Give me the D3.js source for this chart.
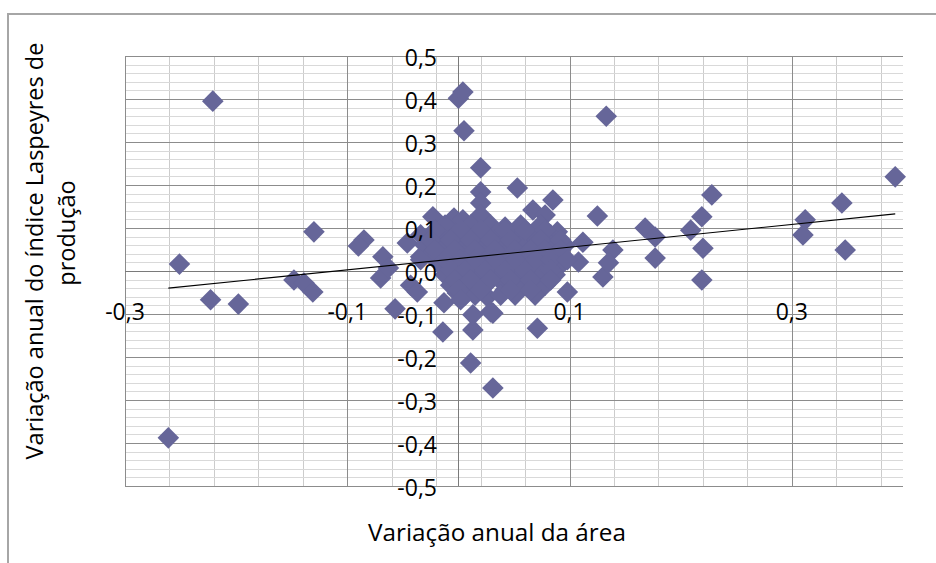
<!DOCTYPE html>
<html><head><meta charset="utf-8">
<script src="https://cdn.jsdelivr.net/npm/d3@7"></script>
<style>html,body{margin:0;padding:0;background:#fff;overflow:hidden}</style>
</head><body>
<svg id="c" width="936" height="563"></svg>
<script>
// ---- data ----
const xTickValues = [-0.3, -0.1, 0.1, 0.3];
const yTickValues = [0.5, 0.4, 0.3, 0.2, 0.1, 0.0, -0.1, -0.2, -0.3, -0.4, -0.5];
const xTitle = "Variação anual da área";
const yTitleLines = ["Variação anual do índice Laspeyres de", "produção"];
const areaVar = [
 -0.261,-0.251,-0.221,-0.223,-0.198,-0.148,-0.139,-0.131,-0.130,-0.085,-0.090,-0.068,-0.070,-0.057,-0.063,
 -0.046,-0.043,-0.037,-0.034,-0.014,0.011,0.031,0.013,0.013,0.031,0.026,0.071,0.098,-0.013,-0.001,
 0.000,0.004,0.005,0.133,0.020,0.020,0.053,0.020,0.020,0.085,-0.023,-0.004,0.042,0.067,0.078,
 0.089,0.004,0.125,0.112,0.108,0.130,0.139,0.135,0.168,0.177,0.177,0.209,0.219,0.228,0.220,
 0.219,0.312,0.310,0.345,0.348,0.393,0.080,0.062,0.042,0.029,
 -0.012,0.011,0.029,0.056,0.074,
 -0.034,-0.016,-0.003,0.015,0.033,0.051,0.065,0.083,
 -0.030,-0.012,0.002,0.020,0.038,0.056,0.069,0.083,0.096,
 -0.025,-0.007,0.006,0.024,0.042,0.060,0.074,0.087,
 -0.016,-0.003,0.011,0.029,0.047,0.065,0.078,0.092,
 -0.012,0.002,0.020,0.038,0.056,0.074,0.087,
 -0.007,0.006,0.024,0.042,0.060,0.078,
 0.006,0.015,0.038,0.051,0.069,
 -0.021,0.002,0.020,0.042,0.060,0.078,
 -0.025,-0.007,0.011,0.029,0.047,0.074,0.092,
 -0.021,-0.003,0.015,0.033,0.051,0.065,0.078,0.092,
 -0.034,-0.012,0.002,0.015,0.033,0.051,0.069,0.083,0.098,
 -0.007,0.006,0.024,0.042,0.060,0.083,
 -0.003,0.011,0.029,0.047,0.065,0.083,
 0.000,0.020,0.047,0.065,
 0.002
];
const prodVar = [
 -0.388,0.016,0.395,-0.067,-0.077,-0.021,-0.028,-0.049,0.091,0.072,0.058,0.033,-0.016,-0.088,0.007,
 0.065,-0.033,-0.049,0.033,-0.142,-0.214,-0.272,-0.137,-0.102,-0.098,-0.060,-0.133,-0.049,-0.074,-0.051,
 0.402,0.416,0.326,0.360,0.240,0.184,0.193,0.158,0.130,0.165,0.126,0.123,0.102,0.142,0.130,
 0.091,0.119,0.128,0.067,0.021,-0.014,0.049,0.019,0.100,0.079,0.030,0.095,0.126,0.177,0.053,
 -0.021,0.119,0.084,0.158,0.049,0.219,-0.016,-0.028,-0.044,-0.095,
 0.107,0.107,0.107,0.107,0.107,
 0.084,0.084,0.084,0.084,0.084,0.084,0.084,0.084,
 0.060,0.060,0.060,0.060,0.060,0.060,0.060,0.060,0.060,
 0.037,0.037,0.037,0.037,0.037,0.037,0.037,0.037,
 0.014,0.014,0.014,0.014,0.014,0.014,0.014,0.014,
 -0.009,-0.009,-0.009,-0.009,-0.009,-0.009,-0.009,
 -0.033,-0.033,-0.033,-0.033,-0.033,-0.033,
 -0.056,-0.056,-0.056,-0.056,-0.056,
 0.095,0.095,0.095,0.095,0.095,0.095,
 0.072,0.072,0.072,0.072,0.072,0.072,0.072,
 0.049,0.049,0.049,0.049,0.049,0.049,0.049,0.049,
 0.026,0.026,0.026,0.026,0.026,0.026,0.026,0.026,0.026,
 0.002,0.002,0.002,0.002,0.002,0.002,
 -0.021,-0.021,-0.021,-0.021,-0.021,-0.021,
 -0.044,-0.044,-0.044,-0.044,
 -0.067
];
const trendSlope = 0.264;
const trendIntercept = 0.029;

// ---- layout ----
const svg = d3.select("#c");
const FONT = "'Open Sans', 'DejaVu Sans', sans-serif";
const plot = {left:125, right:903, top:56, bottom:486};
const x = d3.scaleLinear().domain([-0.3, 0.4]).range([plot.left, plot.right]);
const y = d3.scaleLinear().domain([-0.5, 0.5]).range([plot.bottom, plot.top]);
const fmt = v => d3.format(".1f")(Math.abs(v) < 1e-9 ? 0 : v).replace(".", ",").replace("−", "-");

// outer chart border
svg.append("rect").attr("x",8).attr("y",14).attr("width",960).attr("height",600)
  .attr("fill","#fff").attr("stroke","#a6a6a6").attr("stroke-width",2);

const g = svg.append("g");
// minor gridlines
const minorX = d3.range(0, 18).map(i => -0.3 + i*0.04).filter(v => v < 0.399);
const minorY = d3.range(0, 51).map(i => -0.5 + i*0.02);
g.selectAll(".mx").data(minorX).join("line")
  .attr("x1", d => Math.round(x(d))+0.5).attr("x2", d => Math.round(x(d))+0.5)
  .attr("y1", plot.top).attr("y2", plot.bottom).attr("stroke","#cccccc").attr("stroke-width",1);
g.selectAll(".my").data(minorY).join("line")
  .attr("y1", d => Math.round(y(d))+0.5).attr("y2", d => Math.round(y(d))+0.5)
  .attr("x1", plot.left).attr("x2", plot.right).attr("stroke","#d9d9d9").attr("stroke-width",1);
// major gridlines
g.selectAll(".Mx").data(xTickValues).join("line")
  .attr("x1", d => Math.round(x(d))+0.5).attr("x2", d => Math.round(x(d))+0.5)
  .attr("y1", plot.top).attr("y2", plot.bottom).attr("stroke","#8c8c8c").attr("stroke-width",1);
g.selectAll(".My").data(yTickValues).join("line")
  .attr("y1", d => Math.round(y(d))+0.5).attr("y2", d => Math.round(y(d))+0.5)
  .attr("x1", plot.left).attr("x2", plot.right).attr("stroke","#8c8c8c").attr("stroke-width",1);
// axes lines at zero
g.append("line").attr("x1", Math.round(x(0))+0.5).attr("x2", Math.round(x(0))+0.5)
  .attr("y1", plot.top).attr("y2", plot.bottom).attr("stroke","#7a7a7a");
g.append("line").attr("y1", Math.round(y(0))+0.5).attr("y2", Math.round(y(0))+0.5)
  .attr("x1", plot.left).attr("x2", plot.right).attr("stroke","#7a7a7a");

// points
const pts = areaVar.map((a, i) => ({a, p: prodVar[i]}));
const R = 10.8;
g.selectAll(".pt").data(pts).join("path")
  .attr("d", `M0,${-R}L${R},0L0,${R}L${-R},0Z`)
  .attr("transform", d => `translate(${x(d.a)},${y(d.p)})`)
  .attr("fill", "#666699");

// trendline
const ext = d3.extent(areaVar);
g.append("line")
  .attr("x1", x(ext[0])).attr("y1", y(trendSlope*ext[0] + trendIntercept))
  .attr("x2", x(ext[1])).attr("y2", y(trendSlope*ext[1] + trendIntercept))
  .attr("stroke", "#000").attr("stroke-width", 1.1);

// tick labels
g.selectAll(".yl").data(yTickValues).join("text")
  .attr("x", 437).attr("y", d => y(d) + 2).attr("dy", "0.36em")
  .attr("text-anchor", "end").attr("font-family", FONT).attr("font-size", 23)
  .attr("fill", "#000").text(fmt);
g.selectAll(".xl").data(xTickValues).join("text")
  .attr("x", d => x(d)).attr("y", y(0) + 41).attr("dy", "0.36em")
  .attr("text-anchor", "middle").attr("font-family", FONT).attr("font-size", 23)
  .attr("fill", "#000").text(fmt);

// axis titles
const xt = svg.append("text").attr("x", 497).attr("y", 533).attr("dy", "0.35em")
  .attr("text-anchor", "middle").attr("font-family", FONT).attr("font-size", 20).text(xTitle);
const xl = xt.node().getComputedTextLength();
xt.attr("font-size", 20 * 258 / xl);
const yt1 = svg.append("text").attr("transform", "translate(35,251) rotate(-90)").attr("dy", "0.35em")
  .attr("text-anchor", "middle").attr("font-family", FONT).attr("font-size", 20).text(yTitleLines[0]);
const yl1 = yt1.node().getComputedTextLength();
const yfs = 20 * 417 / yl1;
yt1.attr("font-size", yfs);
svg.append("text").attr("transform", "translate(67,233) rotate(-90)").attr("dy", "0.35em")
  .attr("text-anchor", "middle").attr("font-family", FONT).attr("font-size", yfs).text(yTitleLines[1]);
</script>
</body></html>
